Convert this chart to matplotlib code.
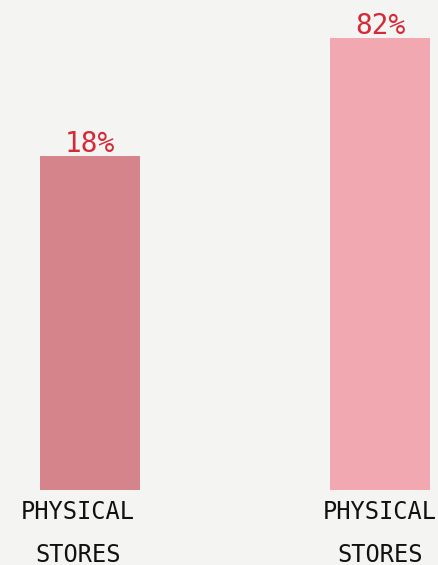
import matplotlib
matplotlib.use('Agg')
import matplotlib.pyplot as plt
import matplotlib.transforms as mtransforms

categories = ['PHYSICAL\nSTORES', 'PHYSICAL\nSTORES']
values = [18, 82]
labels = ['18%', '82%']
colors = ['#d4848a', '#f2a8b1']

# the bars in the picture are not drawn from zero
baseline = -163

fig = plt.figure(figsize=(4.39, 5.65), dpi=100)
fig.patch.set_facecolor('#f4f4f2')
ax = fig.add_axes([0, 75 / 565, 1, 490 / 565])
ax.set_facecolor('#f4f4f2')

x = [0, 1]
ax.bar(x, [v - baseline for v in values], bottom=baseline, width=0.345, color=colors)
ax.set_xlim(-0.310, 1.203)
ax.set_ylim(baseline, 102.6)

for xi, v, lab in zip(x, values, labels):
    ax.annotate(lab, (xi, v), xytext=(0, 3), textcoords='offset points',
                ha='center', va='baseline', color='#d42a38',
                fontsize=20, family='DejaVu Sans Mono')

for xi, cat in zip(x, categories):
    dx = -12 if xi == 0 else 0
    off = mtransforms.offset_copy(ax.transData, fig=fig, x=dx, y=-10, units='dots')
    ax.text(xi, baseline, cat, transform=off, ha='center', va='top',
            fontsize=17, family='DejaVu Sans Mono', color='#111111',
            linespacing=2.0, clip_on=False)

ax.axis('off')
fig.savefig('out.png', dpi=100, facecolor=fig.get_facecolor())
